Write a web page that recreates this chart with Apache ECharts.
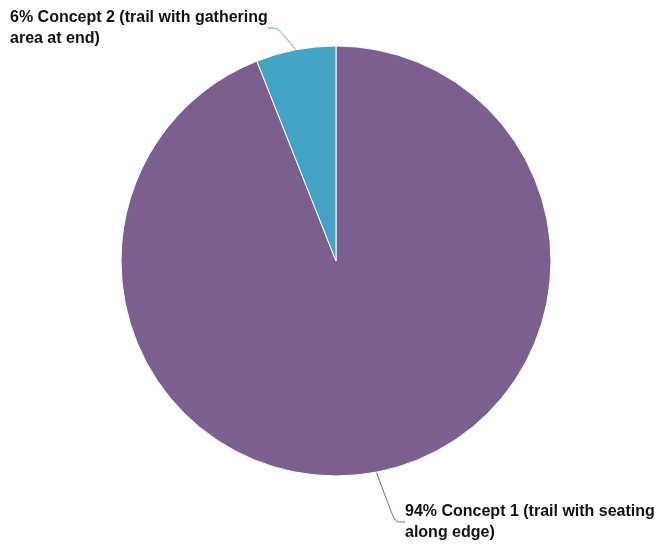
<!DOCTYPE html>
<html><head><meta charset="utf-8">
<script src="https://cdn.jsdelivr.net/npm/echarts@6/dist/echarts.min.js"></script>
<style>html,body{margin:0;padding:0;background:#fff}#c{width:656px;height:544px}</style>
</head><body><div id="c"></div>
<script>
const categories = ['Concept 1 (trail with seating\nalong edge)', 'Concept 2 (trail with gathering\narea at end)'];
const values = [94, 6];
const colors = ['#7B5F8E', '#42A3C4'];

const chart = echarts.init(document.getElementById('c'));
chart.setOption({
  animation: false,
  series: [{
    type: 'pie',
    center: [336, 261],
    radius: [0, 215],
    startAngle: 90,
    clockwise: true,
    data: categories.map((n, i) => ({ name: n, value: values[i], itemStyle: { color: colors[i] } })),
    itemStyle: { borderColor: '#ffffff', borderWidth: 1 },
    label: {
      formatter: p => p.value + '% ' + p.name,
      fontFamily: 'Liberation Sans, Arial, sans-serif',
      fontWeight: 'bold',
      fontSize: 16,
      lineHeight: 21,
      color: '#111'
    },
    labelLine: { show: true, smooth: 0.3, length: 15, length2: 10, lineStyle: { width: 1 } },
    labelLayout: function (p) {
      if (p.dataIndex === 1) {
        return { x: 10, y: 7, align: 'left', verticalAlign: 'top' };
      }
      return { x: 405, y: 501, align: 'left', verticalAlign: 'top' };
    }
  }]
});
</script></body></html>
